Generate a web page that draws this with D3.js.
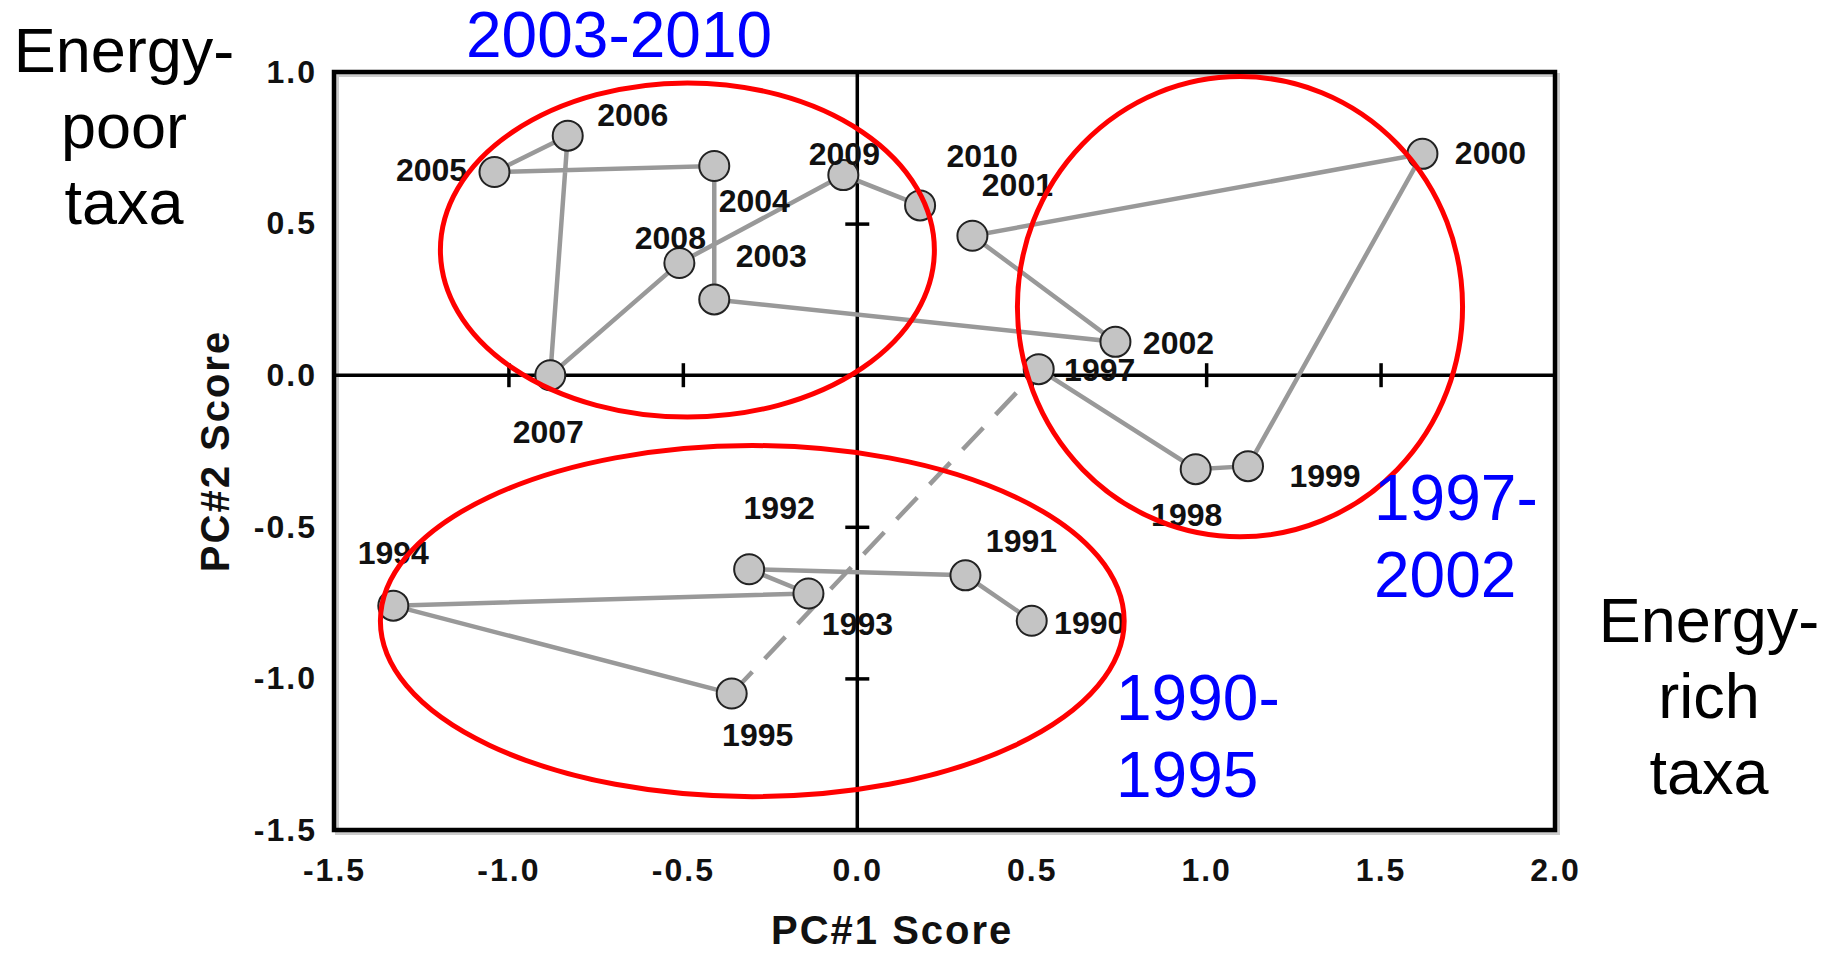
<!DOCTYPE html>
<html>
<head>
<meta charset="utf-8">
<script src="https://cdn.jsdelivr.net/npm/d3@7"></script>
<style>
  body { margin: 0; background: #fff; }
  svg { display: block; font-family: "Liberation Sans", Arial, sans-serif; }
  .tick-label { font-size: 32px; font-weight: bold; letter-spacing: 2px; fill: #111; }
  .year-label { font-size: 32px; font-weight: bold; fill: #111; }
  .axis-title { font-size: 40px; font-weight: bold; letter-spacing: 2px; fill: #111; }
  .side-note { font-size: 63px; fill: #000; }
  .period { font-size: 64px; fill: #0000ff; }
</style>
</head>
<body>
<div id="chart"></div>
<script>
// PCA trajectory, one point per year (1996 missing)
const years = [1990, 1991, 1992, 1993, 1994, 1995,
  1997, 1998, 1999, 2000, 2001, 2002, 2003, 2004, 2005, 2006, 2007, 2008, 2009, 2010];
const pc1 = [0.50, 0.31, -0.31, -0.14, -1.33, -0.36,
  0.52, 0.97, 1.12, 1.62, 0.33, 0.74, -0.41, -0.41, -1.04, -0.83, -0.88, -0.51, -0.04, 0.18];
const pc2 = [-0.81, -0.66, -0.64, -0.72, -0.76, -1.05,
  0.02, -0.31, -0.30, 0.73, 0.46, 0.11, 0.25, 0.69, 0.67, 0.79, 0.00, 0.37, 0.66, 0.56];

const xTicks = [-1.5, -1.0, -0.5, 0.0, 0.5, 1.0, 1.5, 2.0];
const yTicks = [1.0, 0.5, 0.0, -0.5, -1.0, -1.5];

// period groupings drawn as ellipses (data units)
const periodNames = ['2003-2010', '1997-\n2002', '1990-\n1995'];
const ellipseCx = [-0.487, 1.097, -0.301];
const ellipseCy = [0.413, 0.226, -0.811];
const ellipseRx = [0.708, 0.638, 1.066];
const ellipseRy = [0.551, 0.759, 0.579];

const width = 1823;
const height = 953;

const x = d3.scaleLinear().domain([-1.5, 2.0]).range([334, 1555]);
const y = d3.scaleLinear().domain([-1.5, 1.0]).range([830, 72]);

const svg = d3.select('#chart')
  .append('svg')
  .attr('width', width)
  .attr('height', height);

const points = years.map((yr, i) => ({ year: yr, x: pc1[i], y: pc2[i] }));
const fmt = d => d.toFixed(1);

// frame with a soft shadow
svg.append('rect')
  .attr('x', x(-1.5) + 3).attr('y', y(1.0) + 3)
  .attr('width', x(2.0) - x(-1.5)).attr('height', y(-1.5) - y(1.0))
  .attr('fill', 'none').attr('stroke', '#ccc').attr('stroke-width', 4);
svg.append('rect')
  .attr('x', x(-1.5)).attr('y', y(1.0))
  .attr('width', x(2.0) - x(-1.5)).attr('height', y(-1.5) - y(1.0))
  .attr('fill', 'none').attr('stroke', '#000').attr('stroke-width', 4.5);

// zero lines
svg.append('line')
  .attr('x1', x(-1.5)).attr('x2', x(2.0))
  .attr('y1', y(0)).attr('y2', y(0))
  .attr('stroke', '#000').attr('stroke-width', 3.5);
svg.append('line')
  .attr('x1', x(0)).attr('x2', x(0))
  .attr('y1', y(1.0)).attr('y2', y(-1.5))
  .attr('stroke', '#000').attr('stroke-width', 3.5);

// cross ticks on the zero lines
const tickLen = 12;
svg.append('g')
  .attr('transform', `translate(0,${y(0) - tickLen})`)
  .call(d3.axisBottom(x)
    .tickValues(xTicks.filter(d => d !== 0 && d !== -1.5 && d !== 2.0))
    .tickSize(tickLen * 2).tickFormat(''))
  .call(g => g.select('.domain').remove())
  .call(g => g.selectAll('line').attr('stroke', '#000').attr('stroke-width', 3.5));
svg.append('g')
  .attr('transform', `translate(${x(0) - tickLen},0)`)
  .call(d3.axisRight(y)
    .tickValues(yTicks.filter(d => d !== 0 && d !== 1.0 && d !== -1.5))
    .tickSize(tickLen * 2).tickFormat(''))
  .call(g => g.select('.domain').remove())
  .call(g => g.selectAll('line').attr('stroke', '#000').attr('stroke-width', 3.5));

// tick labels outside the frame
svg.append('g')
  .attr('transform', `translate(0,${y(-1.5)})`)
  .call(d3.axisBottom(x).tickValues(xTicks).tickSize(0).tickPadding(28).tickFormat(fmt))
  .call(g => g.select('.domain').remove())
  .call(g => g.selectAll('text').attr('class', 'tick-label').attr('font-family', null).attr('font-size', null).attr('fill', null));
svg.append('g')
  .attr('transform', `translate(${x(-1.5)},0)`)
  .call(d3.axisLeft(y).tickValues(yTicks).tickSize(0).tickPadding(17).tickFormat(fmt))
  .call(g => g.select('.domain').remove())
  .call(g => g.selectAll('text').attr('class', 'tick-label').attr('font-family', null).attr('font-size', null).attr('fill', null));

// axis titles
svg.append('text')
  .attr('class', 'axis-title')
  .attr('x', x(0.1)).attr('y', 944)
  .attr('text-anchor', 'middle')
  .text('PC#1 Score');
svg.append('text')
  .attr('class', 'axis-title')
  .attr('transform', `translate(229,${y(-0.25)}) rotate(-90)`)
  .attr('text-anchor', 'middle')
  .text('PC#2 Score');

// trajectory
const line = d3.line().x(d => x(d.x)).y(d => y(d.y));
const early = points.filter(d => d.year <= 1995);
const late = points.filter(d => d.year >= 1997);
const gap = [early[early.length - 1], late[0]];

svg.append('path').attr('d', line(early))
  .attr('fill', 'none').attr('stroke', '#999').attr('stroke-width', 4.5);
svg.append('path').attr('d', line(late))
  .attr('fill', 'none').attr('stroke', '#999').attr('stroke-width', 4.5);
svg.append('path').attr('d', line(gap))
  .attr('fill', 'none').attr('stroke', '#999').attr('stroke-width', 4.5)
  .attr('stroke-dasharray', '30,18');

svg.append('g')
  .selectAll('circle')
  .data(points)
  .enter()
  .append('circle')
  .attr('cx', d => x(d.x))
  .attr('cy', d => y(d.y))
  .attr('r', 15)
  .attr('fill', '#c4c4c4')
  .attr('stroke', '#222')
  .attr('stroke-width', 2);

// label placement (px from point centre to label centre)
const labelOffset = {
  1990: [58, 2], 1991: [56, -34], 1992: [30, -61], 1993: [49, 30], 1994: [0, -53],
  1995: [26, 41], 1997: [61, 1], 1998: [-9, 46], 1999: [77, 10], 2000: [68, -1],
  2001: [45, -51], 2002: [63, 1], 2003: [57, -43], 2004: [40, 35], 2005: [-63, -2],
  2006: [65, -21], 2007: [-2, 57], 2008: [-9, -25], 2009: [1, -21], 2010: [62, -49]
};
svg.append('g')
  .selectAll('text')
  .data(points)
  .enter()
  .append('text')
  .attr('class', 'year-label')
  .attr('text-anchor', 'middle')
  .attr('x', d => x(d.x) + labelOffset[d.year][0])
  .attr('y', d => y(d.y) + labelOffset[d.year][1] + 11)
  .text(d => d.year);

// period ellipses
svg.append('g')
  .selectAll('ellipse')
  .data(periodNames)
  .enter()
  .append('ellipse')
  .attr('cx', (d, i) => x(ellipseCx[i]))
  .attr('cy', (d, i) => y(ellipseCy[i]))
  .attr('rx', (d, i) => x(ellipseRx[i]) - x(0))
  .attr('ry', (d, i) => y(0) - y(ellipseRy[i]))
  .attr('fill', 'none')
  .attr('stroke', '#ff0000')
  .attr('stroke-width', 5);

// period names
const periodPos = [[466, 57], [1374, 520], [1116, 720]];
periodNames.forEach((name, i) => {
  const t = svg.append('text').attr('class', 'period')
    .attr('x', periodPos[i][0]).attr('y', periodPos[i][1]);
  name.split('\n').forEach((part, j) => {
    t.append('tspan').attr('x', periodPos[i][0]).attr('dy', j === 0 ? 0 : 77).text(part);
  });
});

// side notes
const notes = [
  { lines: ['Energy-', 'poor', 'taxa'], cx: 124, top: 72 },
  { lines: ['Energy-', 'rich', 'taxa'], cx: 1709, top: 642 }
];
notes.forEach(n => {
  const t = svg.append('text').attr('class', 'side-note')
    .attr('text-anchor', 'middle').attr('x', n.cx).attr('y', n.top);
  n.lines.forEach((part, j) => {
    t.append('tspan').attr('x', n.cx).attr('dy', j === 0 ? 0 : 76).text(part);
  });
});
</script>
</body>
</html>
